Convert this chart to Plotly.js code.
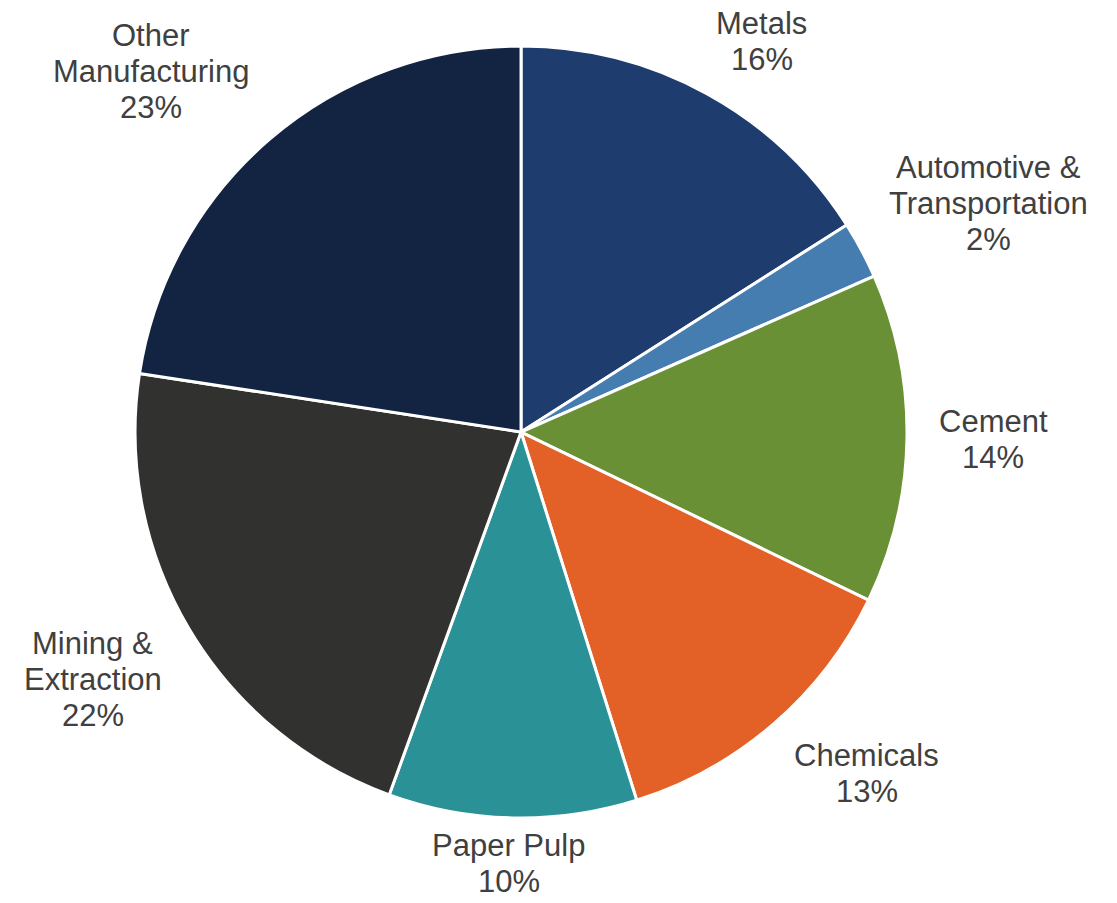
<!DOCTYPE html>
<html>
<head>
<meta charset="utf-8">
<script src="https://cdn.plot.ly/plotly-3.0.1.min.js"></script>
<style>html,body{margin:0;padding:0;background:#fff;}#chart{width:1117px;height:903px;}</style>
</head>
<body>
<div id="chart"></div>
<script>
const categories = ["Metals", "Automotive &<br>Transportation", "Cement", "Chemicals", "Paper Pulp", "Mining &<br>Extraction", "Other<br>Manufacturing"];
const shares = [16.0, 2.4, 13.8, 13.0, 10.4, 21.9, 22.6];
const colors = ["#1F3C6E", "#467DB0", "#6A9035", "#E36026", "#2A9196", "#31312F", "#132443"];

const W = 1117, H = 903;
const domain = {x: [0.1209, 0.812], y: [0.0941, 0.949]};
const FONT = "Liberation Sans, Arial, sans-serif";
const FSIZE = 31, LINE_H = 36, GAP_X = 32, GAP_Y = 18, EDGE = 22;

// pie geometry derived from the domain (same rule Plotly uses)
const cx = (domain.x[0] + domain.x[1]) / 2 * W;
const cy = (1 - (domain.y[0] + domain.y[1]) / 2) * H;
const R = Math.min((domain.x[1] - domain.x[0]) * W, (domain.y[1] - domain.y[0]) * H) / 2;

const ctx = document.createElement("canvas").getContext("2d");
ctx.font = FSIZE + "px 'Liberation Sans', Arial, sans-serif";

const total = shares.reduce((a, b) => a + b, 0);
const annotations = [];
let cum = 0;
const clamp = v => Math.max(-1, Math.min(1, v));
shares.forEach((v, i) => {
  const mid = (cum + v / 2) / total * 2 * Math.PI;
  cum += v;
  const pct = Math.round(v / total * 100) + "%";
  const lines = categories[i].split("<br>").concat([pct]);
  const w = Math.max(...lines.map(t => ctx.measureText(t).width));
  const h = lines.length * LINE_H;
  const dx = Math.sin(mid), dy = -Math.cos(mid);
  const px = cx + dx * (R + GAP_X), py = cy + dy * (R + GAP_Y);
  const bx = px + clamp(1.8 * dx) * w / 2;
  let by = py + clamp(1.5 * dy) * h / 2;
  const half = (lines.length - 1) / 2 * LINE_H;
  by = Math.max(EDGE + half, Math.min(H - EDGE - half, by));
  lines.forEach((t, j) => {
    const ly = by + (j - (lines.length - 1) / 2) * LINE_H;
    annotations.push({
      xref: "paper", yref: "paper",
      x: bx / W, y: 1 - ly / H,
      xanchor: "center", yanchor: "middle",
      text: t, showarrow: false,
      font: {family: FONT, size: FSIZE, color: "#404040"}
    });
  });
});

const trace = {
  type: "pie",
  labels: categories,
  values: shares,
  sort: false,
  direction: "clockwise",
  rotation: 0,
  marker: {colors: colors, line: {color: "#ffffff", width: 3}},
  textinfo: "none",
  hoverinfo: "label+percent",
  showlegend: false,
  domain: domain
};

const layout = {
  width: W,
  height: H,
  margin: {l: 0, r: 0, t: 0, b: 0},
  paper_bgcolor: "#ffffff",
  showlegend: false,
  font: {family: FONT, color: "#404040"},
  annotations: annotations
};

Plotly.newPlot("chart", [trace], layout, {displayModeBar: false, staticPlot: true});
</script>
</body>
</html>
